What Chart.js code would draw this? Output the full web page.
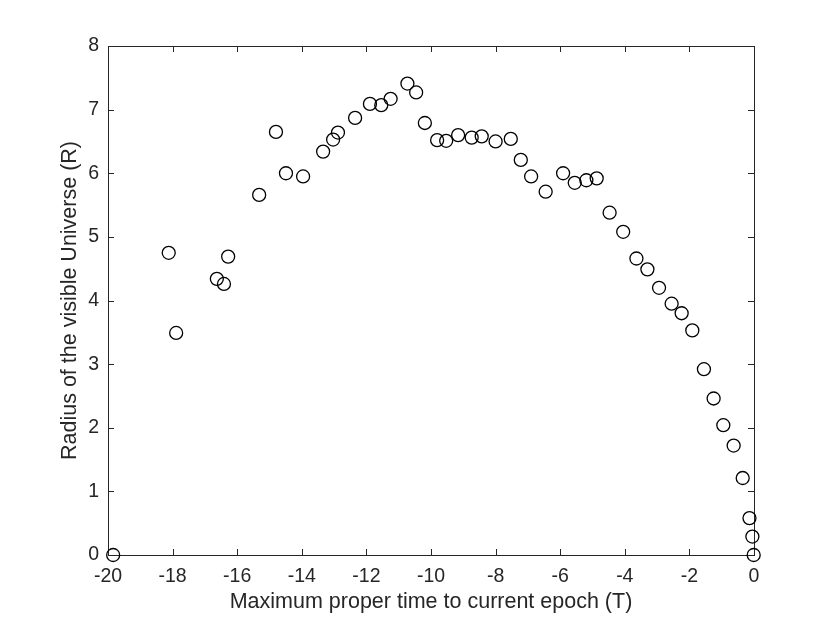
<!DOCTYPE html>
<html>
<head>
<meta charset="utf-8">
<script src="https://cdn.jsdelivr.net/npm/chart.js@4"></script>
<style>
  html, body { margin: 0; padding: 0; background: #fff; }
  #wrap { width: 830px; height: 624px; }
</style>
</head>
<body>
<div id="wrap"><canvas id="chart" width="830" height="624"></canvas></div>
<script>
// values
const timeT = [-19.84, -18.12, -17.89, -16.63, -16.41, -16.28, -15.32, -14.80, -14.49, -13.96,
    -13.34, -13.03, -12.88, -12.35, -11.89, -11.54, -11.25, -10.73, -10.46, -10.19,
    -9.81, -9.53, -9.16, -8.74, -8.43, -8.00, -7.53, -7.22, -6.90, -6.45,
    -5.91, -5.55, -5.19, -4.87, -4.47, -4.05, -3.64, -3.30, -2.94, -2.55,
    -2.24, -1.91, -1.55, -1.25, -0.95, -0.63, -0.35, -0.14, -0.05, -0.01];
const radiusR = [0, 4.75, 3.49, 4.34, 4.26, 4.69, 5.66, 6.65, 6.00, 5.95,
    6.34, 6.53, 6.64, 6.87, 7.09, 7.07, 7.17, 7.41, 7.27, 6.79,
    6.52, 6.51, 6.60, 6.56, 6.58, 6.50, 6.54, 6.21, 5.95, 5.71,
    6.00, 5.85, 5.89, 5.92, 5.38, 5.08, 4.66, 4.49, 4.20, 3.95,
    3.80, 3.53, 2.92, 2.46, 2.04, 1.72, 1.21, 0.58, 0.29, 0];
const xTicks = [-20, -18, -16, -14, -12, -10, -8, -6, -4, -2, 0];
const yTicks = [0, 1, 2, 3, 4, 5, 6, 7, 8];

const points = timeT.map((t, i) => ({ x: t, y: radiusR[i] }));

const axisColor = '#262626';
const fontFamily = '"Liberation Sans", Arial, Helvetica, sans-serif';

// MATLAB-like box with ticks pointing inward on all four sides
const boxPlugin = {
    id: 'matlabBox',
    beforeDatasetsDraw(chart) {
        const { ctx, chartArea: a, scales } = chart;
        const len = 6;
        ctx.save();
        ctx.strokeStyle = axisColor;
        ctx.lineWidth = 1;
        ctx.strokeRect(a.left + 0.5, a.top + 0.5, a.right - a.left, a.bottom - a.top);
        ctx.beginPath();
        xTicks.forEach(v => {
            const px = Math.round(scales.x.getPixelForValue(v)) + 0.5;
            ctx.moveTo(px, a.bottom); ctx.lineTo(px, a.bottom - len);
            ctx.moveTo(px, a.top); ctx.lineTo(px, a.top + len);
        });
        yTicks.forEach(v => {
            const py = Math.round(scales.y.getPixelForValue(v)) + 0.5;
            ctx.moveTo(a.left, py); ctx.lineTo(a.left + len, py);
            ctx.moveTo(a.right, py); ctx.lineTo(a.right - len, py);
        });
        ctx.stroke();
        ctx.restore();
    }
};

new Chart(document.getElementById('chart'), {
    type: 'scatter',
    data: {
        datasets: [{
            data: points,
            showLine: false,
            pointStyle: 'circle',
            pointRadius: 6.5,
            pointHoverRadius: 6.5,
            pointBorderWidth: 1.3,
            borderColor: '#000',
            backgroundColor: 'rgba(0,0,0,0)',
            clip: false
        }]
    },
    options: {
        responsive: false,
        animation: false,
        layout: { padding: { left: 0, top: 46, right: 76, bottom: 0 } },
        plugins: {
            legend: { display: false },
            tooltip: { enabled: false }
        },
        scales: {
            x: {
                type: 'linear',
                min: -20,
                max: 0,
                grid: { display: false, drawTicks: false },
                border: { display: false },
                afterBuildTicks: scale => { scale.ticks = xTicks.map(v => ({ value: v })); },
                afterFit: scale => { scale.height = 69; },
                ticks: {
                    color: axisColor,
                    padding: 10,
                    maxRotation: 0,
                    font: { family: fontFamily, size: 19.5 }
                },
                title: {
                    display: true,
                    text: 'Maximum proper time to current epoch (T)',
                    color: axisColor,
                    font: { family: fontFamily, size: 21.5, lineHeight: 1 },
                    padding: { top: 0, bottom: 11.25 }
                }
            },
            y: {
                type: 'linear',
                min: 0,
                max: 8,
                grid: { display: false, drawTicks: false },
                border: { display: false },
                afterBuildTicks: scale => { scale.ticks = yTicks.map(v => ({ value: v })); },
                afterFit: scale => { scale.width = 108; },
                ticks: {
                    color: axisColor,
                    padding: 9,
                    font: { family: fontFamily, size: 19.5 }
                },
                title: {
                    display: true,
                    text: 'Radius of the visible Universe (R)',
                    color: axisColor,
                    font: { family: fontFamily, size: 21.5, lineHeight: 1 },
                    padding: { top: 59.25, bottom: 0 }
                }
            }
        }
    },
    plugins: [boxPlugin]
});
</script>
</body>
</html>
